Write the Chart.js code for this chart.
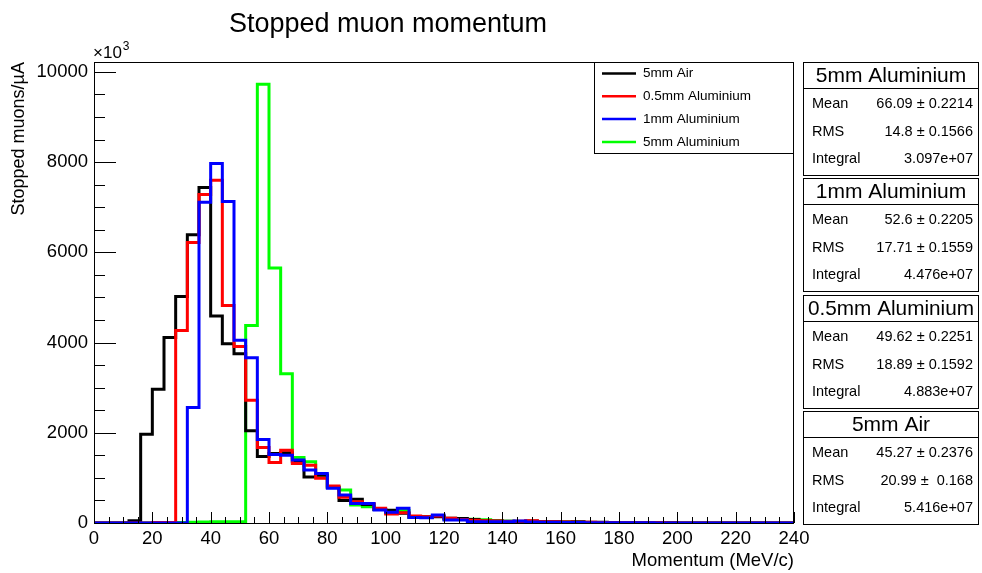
<!DOCTYPE html>
<html>
<head>
<meta charset="utf-8">
<title>Stopped muon momentum</title>
<script src="https://cdn.jsdelivr.net/npm/chart.js@4.4.1/dist/chart.umd.min.js"></script>
<style>
  html, body { margin: 0; padding: 0; background: #fff; }
  #wrap { width: 982px; height: 573px; }
</style>
</head>
<body>
<div id="wrap"><canvas id="muonChart" width="982" height="573"></canvas></div>
<script>
// bin edges, MeV/c (60 bins of 4)
const binEdges = [0, 4, 8, 12, 16, 20, 24, 28, 32, 36, 40, 44, 48, 52, 56, 60, 64, 68, 72, 76,
  80, 84, 88, 92, 96, 100, 104, 108, 112, 116, 120, 124, 128, 132, 136, 140, 144, 148, 152, 156,
  160, 164, 168, 172, 176, 180, 184, 188, 192, 196, 200, 204, 208, 212, 216, 220, 224, 228, 232, 236, 240];

const air5mm = [0, 0, 0, 50, 1970, 2965, 4110, 5020, 6390, 7440,
  4590, 3975, 3750, 2045, 1475, 1540, 1555, 1360, 1020, 1060,
  790, 500, 525, 410, 300, 285, 215, 130, 140, 140,
  105, 100, 80, 50, 45, 40, 35, 45, 25, 30,
  20, 30, 15, 15, 10, 8, 5, 5, 3, 3,
  2, 2, 1, 1, 1, 0, 0, 0, 0, 0];

const al05mm = [0, 0, 0, 0, 0, 10, 10, 4270, 6220, 7280,
  7600, 4820, 3915, 2720, 1675, 1340, 1615, 1320, 1280, 990,
  820, 570, 470, 435, 325, 200, 230, 155, 140, 155,
  105, 80, 60, 50, 45, 35, 40, 50, 25, 25,
  20, 15, 15, 10, 8, 5, 5, 3, 3, 2,
  2, 1, 1, 1, 0, 0, 0, 0, 0, 0];

const al1mm = [0, 0, 0, 0, 0, 0, 0, 0, 2560, 7110,
  7970, 7125, 4050, 3665, 1850, 1520, 1500, 1395, 1175, 1100,
  770, 620, 435, 430, 290, 240, 325, 120, 118, 177,
  66, 66, 30, 30, 28, 30, 45, 20, 15, 15,
  10, 12, 8, 6, 5, 4, 3, 3, 2, 2,
  1, 1, 1, 0, 0, 0, 0, 0, 0, 0];

const al5mm = [0, 0, 0, 0, 0, 0, 0, 10, 15, 20,
  25, 25, 30, 4380, 9725, 5655, 3310, 1450, 1360, 1065,
  790, 730, 400, 360, 300, 220, 275, 130, 120, 150,
  85, 80, 85, 70, 50, 40, 35, 30, 25, 30,
  20, 15, 12, 10, 8, 6, 5, 3, 3, 2,
  2, 1, 1, 1, 0, 0, 0, 0, 0, 0];

const xMajorTicks = ['0', '20', '40', '60', '80', '100', '120', '140', '160', '180', '200', '220', '240'];
const yMajorTicks = ['0', '2000', '4000', '6000', '8000', '10000'];

const statTitles = ['5mm Aluminium', '1mm Aluminium', '0.5mm Aluminium', '5mm Air'];
const statMean = ['66.09 \u00b1 0.2214', '52.6 \u00b1 0.2205', '49.62 \u00b1 0.2251', '45.27 \u00b1 0.2376'];
const statRMS = ['14.8 \u00b1 0.1566', '17.71 \u00b1 0.1559', '18.89 \u00b1 0.1592', '20.99 \u00b1  0.168'];
const statIntegral = ['3.097e+07', '4.476e+07', '4.883e+07', '5.416e+07'];

const FONT = "'Liberation Sans', Arial, Helvetica, sans-serif";

function histPoints(vals) {
  let pts = [];
  for (let i = 0; i < vals.length; i++) {
    pts.push({x: binEdges[i], y: vals[i]});
  }
  pts.push({x: binEdges[binEdges.length - 1], y: vals[vals.length - 1]});
  return pts;
}

function histSet(label, vals, color, order) {
  return {
    label: label,
    data: histPoints(vals),
    borderColor: color,
    backgroundColor: color,
    borderWidth: 3,
    stepped: true,
    pointRadius: 0,
    fill: false,
    order: order,
    borderJoinStyle: 'miter',
    borderCapStyle: 'butt'
  };
}

function isMajor(list, v) {
  return list.includes(String(Math.round(v)));
}

// major + minor ticks (minor every quarter of a major step)
function withMinors(list, parts) {
  let out = [];
  for (let i = 0; i < list.length; i++) {
    let v = Number(list[i]);
    out.push({value: v});
    if (i < list.length - 1) {
      let step = (Number(list[i + 1]) - v) / parts;
      for (let k = 1; k < parts; k++) out.push({value: v + k * step});
    }
  }
  return out;
}

const decorations = {
  id: 'decorations',
  afterDatasetsDraw(chart) {
    const {ctx, chartArea: a, scales: {x, y}} = chart;
    ctx.save();
    ctx.strokeStyle = '#000';
    ctx.lineWidth = 1;
    ctx.strokeRect(a.left + 0.5, a.top + 0.5, a.right - a.left - 1, a.bottom - a.top);
    ctx.beginPath();
    x.ticks.forEach(function(t) {
      let px = Math.round(x.getPixelForValue(t.value)) + 0.5;
      let len = isMajor(xMajorTicks, t.value) ? 11 : 6;
      ctx.moveTo(px, a.bottom);
      ctx.lineTo(px, a.bottom - len);
    });
    y.ticks.forEach(function(t) {
      let py = Math.round(y.getPixelForValue(t.value)) + 0.5;
      let len = isMajor(yMajorTicks, t.value) ? 22 : 11;
      ctx.moveTo(a.left, py);
      ctx.lineTo(a.left + len, py);
    });
    ctx.stroke();
    ctx.restore();
  },
  afterDraw(chart) {
    const {ctx, chartArea: a} = chart;
    ctx.save();
    ctx.fillStyle = '#000';
    ctx.strokeStyle = '#000';
    ctx.lineWidth = 1;

    // title
    ctx.font = '27px ' + FONT;
    ctx.textAlign = 'center';
    ctx.textBaseline = 'alphabetic';
    ctx.fillText('Stopped muon momentum', 388, 32);

    // exponent
    ctx.textAlign = 'left';
    ctx.font = '17px ' + FONT;
    ctx.fillText('\u00d710', a.left - 1, 58);
    let w = ctx.measureText('\u00d710').width;
    ctx.font = '12px ' + FONT;
    ctx.fillText('3', a.left + w, 50);

    // legend
    ctx.fillStyle = '#fff';
    ctx.fillRect(594, 62, 199, 91);
    ctx.strokeRect(594.5, 62.5, 199, 91);
    ctx.font = '13.5px ' + FONT;
    ctx.textBaseline = 'middle';
    chart.data.datasets.forEach(function(ds, i) {
      let ly = 73.5 + i * 22.8;
      ctx.strokeStyle = ds.borderColor;
      ctx.lineWidth = 2.5;
      ctx.beginPath();
      ctx.moveTo(602, ly);
      ctx.lineTo(636, ly);
      ctx.stroke();
      ctx.fillStyle = '#000';
      ctx.fillText(ds.label, 643, ly);
    });

    // stats boxes
    ctx.strokeStyle = '#000';
    ctx.lineWidth = 1;
    for (let i = 0; i < statTitles.length; i++) {
      let top = Math.round(62 + i * 116.3);
      ctx.fillStyle = '#fff';
      ctx.fillRect(803, top, 175, 113);
      ctx.strokeRect(803.5, top + 0.5, 175, 113);
      ctx.beginPath();
      ctx.moveTo(803.5, top + 26.5);
      ctx.lineTo(978.5, top + 26.5);
      ctx.stroke();
      ctx.fillStyle = '#000';
      ctx.textBaseline = 'middle';
      ctx.textAlign = 'center';
      ctx.font = '21px ' + FONT;
      ctx.fillText(statTitles[i], 891, top + 14, 166);
      ctx.font = '14.5px ' + FONT;
      let rows = [['Mean', statMean[i], 42], ['RMS', statRMS[i], 70], ['Integral', statIntegral[i], 96.5]];
      rows.forEach(function(r) {
        ctx.textAlign = 'left';
        ctx.fillText(r[0], 812, top + r[2]);
        ctx.textAlign = 'right';
        ctx.fillText(r[1], 973, top + r[2]);
      });
    }
    ctx.restore();
  }
};

new Chart(document.getElementById('muonChart'), {
  type: 'line',
  data: {
    datasets: [
      histSet('5mm Air', air5mm, '#000000', 2),
      histSet('0.5mm Aluminium', al05mm, '#ff0000', 1),
      histSet('1mm Aluminium', al1mm, '#0000ff', 0),
      histSet('5mm Aluminium', al5mm, '#00ff00', 3)
    ]
  },
  options: {
    responsive: false,
    animation: false,
    events: [],
    layout: { padding: { left: 0, right: 188, top: 62, bottom: 0 } },
    plugins: {
      legend: { display: false },
      tooltip: { enabled: false },
      title: { display: false }
    },
    scales: {
      x: {
        type: 'linear',
        min: 0,
        max: 240,
        grid: { display: false, drawTicks: false },
        border: { display: false },
        afterBuildTicks: function(scale) { scale.ticks = withMinors(xMajorTicks, 4); },
        ticks: {
          autoSkip: false,
          maxRotation: 0,
          padding: 5,
          color: '#000',
          font: { family: FONT, size: 18.5 },
          callback: function(v) { return isMajor(xMajorTicks, v) ? String(Math.round(v)) : ''; }
        },
        title: {
          display: true,
          text: 'Momentum (MeV/c)',
          align: 'end',
          color: '#000',
          font: { family: FONT, size: 18.5 },
          padding: { top: 0, bottom: 1 }
        },
        afterFit: function(scale) { scale.height = 50; }
      },
      y: {
        min: 0,
        max: 10220,
        grid: { display: false, drawTicks: false },
        border: { display: false },
        afterBuildTicks: function(scale) { scale.ticks = withMinors(yMajorTicks, 4); },
        ticks: {
          autoSkip: false,
          padding: 6,
          color: '#000',
          font: { family: FONT, size: 18.5 },
          callback: function(v) { return isMajor(yMajorTicks, v) ? String(Math.round(v)) : ''; }
        },
        title: {
          display: true,
          text: 'Stopped muons/\u00b5A',
          align: 'end',
          color: '#000',
          font: { family: FONT, size: 18 },
          padding: { top: 8, bottom: 0 }
        },
        afterFit: function(scale) { scale.width = 94; }
      }
    }
  },
  plugins: [decorations]
});
</script>
</body>
</html>
